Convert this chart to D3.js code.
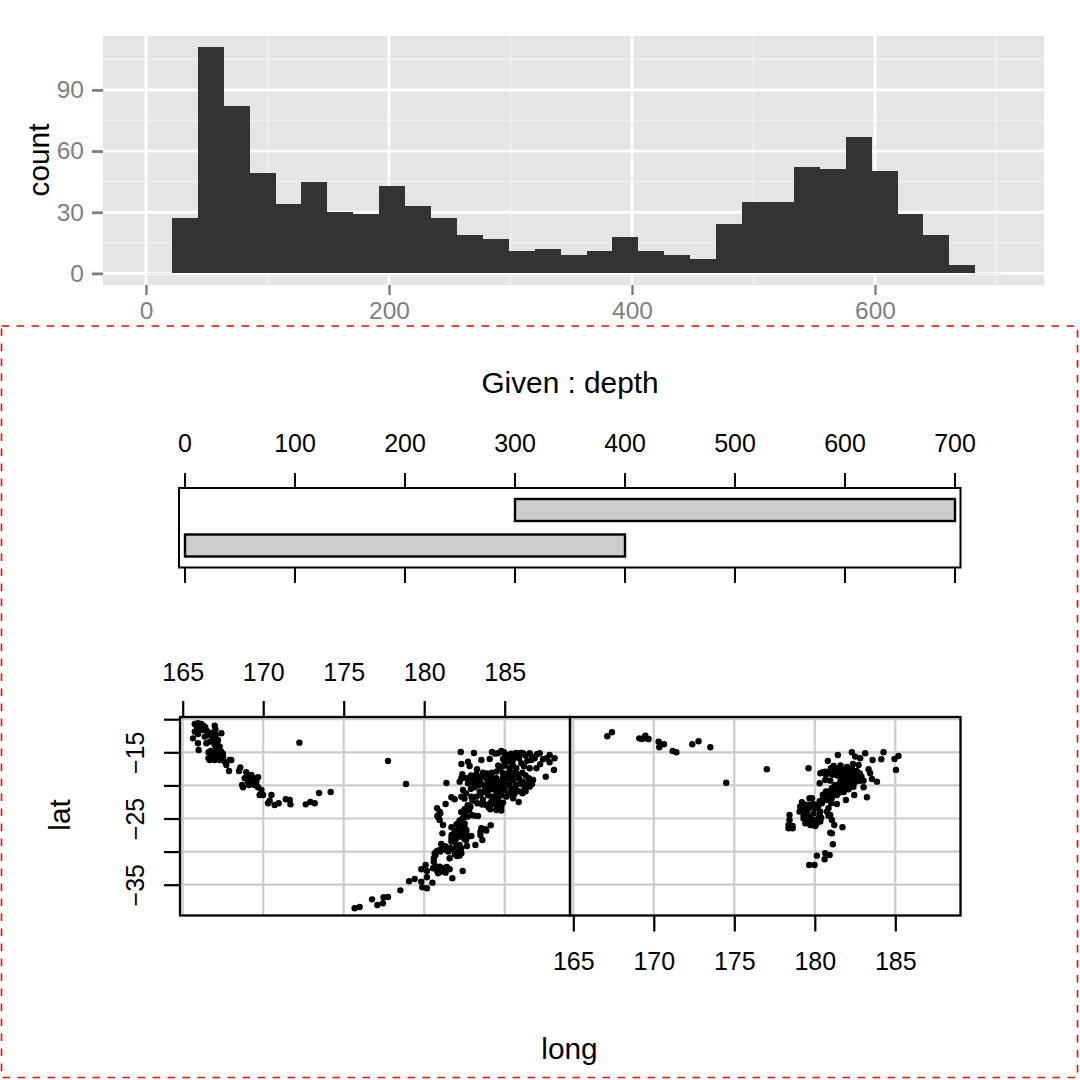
<!DOCTYPE html>
<html>
<head>
<meta charset="utf-8">
<script src="https://cdn.jsdelivr.net/npm/d3@7"></script>
<style>
body { margin: 0; background: #fff; }
svg { display: block; }
text { font-family: "Liberation Sans", Arial, sans-serif; }
</style>
</head>
<body>
<div id="chart"></div>
<script>
// histogram of depth
var binWidth = 21.33;
var binStart = 0;
var binCounts = [0, 27, 111, 82, 49, 34, 45, 30, 29, 43, 33, 27, 19, 17, 11, 12, 9, 11, 18, 11, 9, 7, 24, 35, 35, 52, 51, 67, 50, 29, 19, 4, 0];
var histXMajor = [0, 200, 400, 600];
var histXMinor = [100, 300, 500, 700];
var histYMajor = [0, 30, 60, 90];
var histYMinor = [15, 45, 75, 105];

// shingle
var givenLow = [0, 300];
var givenHigh = [400, 700];
var givenTicks = [0, 100, 200, 300, 400, 500, 600, 700];

// coplot axes
var longTicks = [165, 170, 175, 180, 185];
var latTicks = [-10, -15, -20, -25, -30, -35];
var latLabels = [-15, -25, -35];

// long, lat
var leftPoints = [
  [165.75,-10.72],[165.95,-10.62],[166.16,-10.72],[166.30,-11.02],[165.89,-11.22],[166.06,-11.37],[165.75,-11.88],
  [166.22,-11.63],[166.47,-11.73],[166.99,-10.97],[167.03,-11.53],[167.40,-12.13],[166.78,-12.13],[167.05,-12.38],
  [166.57,-12.38],[165.64,-12.89],[165.95,-12.23],[166.37,-12.63],[166.88,-12.89],[167.19,-13.14],[166.47,-13.64],
  [166.68,-13.39],[165.95,-13.64],[165.99,-14.65],[166.61,-15.00],[166.99,-13.89],[167.30,-14.14],[167.09,-14.65],
  [167.40,-14.90],[166.88,-15.15],[167.19,-15.40],[167.51,-15.65],[166.78,-15.91],[166.68,-16.16],[166.99,-16.16],
  [167.30,-16.16],[167.61,-16.41],[167.92,-16.16],[168.02,-16.16],[167.71,-16.91],[167.88,-17.82],[168.58,-17.27],
  [168.50,-17.82],[168.95,-18.02],[169.06,-18.52],[168.85,-18.93],[169.26,-18.42],[169.68,-18.78],[169.26,-19.18],
  [169.58,-19.43],[169.06,-19.43],[168.69,-19.93],[168.75,-20.29],[169.12,-19.93],[169.47,-19.93],[169.68,-20.29],
  [169.89,-20.69],[169.78,-21.45],[169.99,-21.45],[170.51,-21.45],[170.40,-22.30],[170.30,-22.70],[170.71,-22.96],
  [170.96,-22.70],[171.40,-22.10],[171.65,-22.20],[171.69,-22.86],[172.64,-22.86],[172.93,-22.50],[173.20,-22.70],
  [173.47,-21.14],[174.19,-20.99],[172.25,-13.54],[166.40,-11.20],[166.60,-12.00],[166.85,-12.50],[167.00,-13.20],
  [167.15,-13.60],[166.75,-14.80],[167.25,-15.05],[167.50,-15.20],[167.00,-15.60],[166.60,-15.90],[169.40,-18.90],
  [169.00,-19.00],
  [177.75,-16.31],[178.87,-19.78],[182.27,-14.95],[183.09,-15.10],[184.21,-14.95],[184.79,-14.80],[184.58,-15.15],
  [185.00,-15.25],[183.55,-16.16],[184.07,-16.01],[182.72,-16.41],[182.31,-16.76],[182.82,-17.06],[183.28,-17.57],
  [183.65,-18.07],[183.24,-18.32],[182.37,-18.32],[182.20,-19.43],[181.38,-19.63],[182.31,-18.93],[182.82,-19.18],
  [183.03,-19.58],[183.45,-19.08],[183.86,-18.93],[184.17,-18.68],[184.48,-18.93],[184.90,-18.17],[185.31,-17.42],
  [185.52,-16.16],[185.83,-15.40],[186.14,-15.15],[186.55,-15.15],[187.17,-15.15],[186.86,-15.91],[187.38,-16.06],
  [187.79,-15.40],[188.10,-15.91],[187.79,-16.51],[188.06,-17.67],[187.55,-18.68],[186.65,-16.16],[186.97,-17.42],
  [186.55,-17.42],[186.03,-16.66],[185.72,-17.42],[185.52,-18.17],[185.21,-18.17],[184.90,-19.43],[184.48,-19.93],
  [184.07,-20.19],[183.76,-19.93],[183.24,-19.68],[182.72,-19.68],[182.41,-20.69],[182.31,-21.70],[181.89,-22.10],
  [181.69,-21.80],[181.33,-22.80],[180.80,-23.46],[180.96,-23.96],[180.82,-24.62],[180.96,-25.22],[181.17,-25.98],
  [181.13,-27.24],[181.69,-26.33],[182.10,-25.73],[182.51,-24.72],[182.51,-23.61],[182.87,-23.21],[183.34,-24.62],
  [183.86,-22.96],[183.65,-22.20],[183.24,-21.70],[182.93,-21.70],[183.45,-20.94],[183.96,-21.45],[184.48,-22.20],
  [184.79,-23.21],[184.48,-23.71],[184.79,-23.81],[185.10,-21.70],[185.52,-21.95],[185.87,-22.50],[185.31,-21.19],
  [185.72,-20.69],[186.24,-20.44],[186.55,-20.19],[186.76,-19.18],[186.14,-19.43],[185.52,-19.18],[185.10,-19.93],
  [184.69,-20.69],[184.27,-19.43],[183.96,-19.43],[182.51,-25.73],[182.31,-26.33],[182.62,-26.73],[182.10,-26.98],
  [181.89,-27.49],[181.69,-27.99],[182.20,-27.74],[182.72,-27.74],[182.93,-27.64],[183.55,-26.48],[183.86,-26.83],
  [184.13,-26.03],[183.49,-27.49],[183.61,-28.24],[183.18,-29.00],[182.66,-29.15],[182.20,-29.00],[182.10,-30.00],
  [182.31,-30.26],[182.04,-30.66],[181.69,-28.49],[181.06,-28.85],[181.38,-29.75],[180.96,-29.75],[180.65,-30.26],
  [181.58,-31.01],[180.59,-31.52],[180.09,-32.02],[179.82,-32.67],[180.17,-32.93],[180.55,-32.52],[180.96,-32.27],
  [181.17,-32.52],[181.58,-32.67],[180.86,-33.28],[181.33,-33.18],[182.39,-32.93],[181.75,-34.03],[180.17,-33.88],
  [179.41,-34.13],[179.06,-34.49],[179.82,-34.54],[180.51,-34.69],[179.88,-35.39],[180.17,-35.54],[178.52,-35.85],
  [177.75,-36.85],[177.48,-36.90],[176.76,-37.21],[177.44,-37.81],[177.09,-38.06],[175.99,-38.36],[175.68,-38.56],
  [184.40,-15.20],[184.95,-15.00],[185.20,-15.40],[185.10,-15.90],[185.30,-16.40],[185.00,-17.00],[184.70,-17.50],
  [185.50,-16.90],[185.90,-15.90],[185.60,-15.60],[186.30,-15.50],[186.00,-15.10],[186.70,-15.70],[187.00,-15.30],
  [186.40,-16.30],[186.20,-17.10],[187.20,-16.80],[187.60,-15.90],[183.30,-19.00],[183.50,-19.60],[183.80,-20.30],
  [184.10,-19.10],[184.30,-19.90],[184.60,-19.40],[184.80,-20.00],[185.00,-19.20],[185.30,-19.80],[185.40,-20.50],
  [185.70,-19.90],[185.90,-20.90],[186.00,-19.80],[185.00,-20.70],[184.40,-20.60],[183.90,-20.70],[184.00,-21.50],
  [183.70,-21.00],[183.50,-21.40],[184.30,-21.70],[184.20,-22.30],[184.50,-23.00],[184.30,-22.80],[184.60,-22.60],
  [184.90,-22.60],[185.20,-21.40],[185.60,-21.30],[186.10,-21.20],[186.30,-20.90],[186.70,-19.80],[186.40,-19.70],
  [182.60,-23.90],[182.80,-23.70],[183.20,-24.60],[182.30,-24.00],[182.20,-26.50],[182.40,-25.90],[182.00,-26.80],
  [181.90,-26.90],[182.20,-27.10],[182.40,-27.00],[182.00,-28.00],[182.60,-27.10],[181.90,-28.30],[182.50,-28.10],
  [182.00,-29.10],[182.30,-29.50],[181.00,-30.00],[181.20,-29.60],[181.50,-30.00],[180.80,-29.90],[180.70,-30.50],
  [181.00,-24.20],[180.90,-24.90],[183.50,-27.00],[183.80,-26.60],
  [182.60,-18.90],[182.90,-18.50],[183.10,-18.90],[183.30,-18.60],[183.60,-18.60],[183.90,-18.20],[184.20,-18.10],
  [184.50,-17.90],[184.80,-17.20],[185.00,-16.50],[185.20,-16.00],[184.90,-16.00],[185.40,-15.20],[185.70,-15.10],
  [184.60,-17.00],[184.90,-18.80],[185.20,-18.90],[185.50,-18.60],[185.80,-18.30],[186.10,-18.10],[186.30,-18.50],
  [185.90,-19.00],[186.50,-18.90],[184.20,-20.60],[184.50,-21.10],[184.80,-21.50],[184.60,-21.90],[184.10,-22.70],
  [183.40,-20.00],[183.10,-20.30],[182.90,-20.50],[182.60,-21.20],[182.50,-22.00],[183.00,-22.30],[183.30,-22.70],
  [183.60,-22.90],[184.00,-23.30],[184.10,-23.60],[182.70,-23.00],[182.40,-24.90],[182.70,-24.70],[183.00,-24.50],
  [182.00,-25.90],[182.20,-25.30],[182.50,-26.20],[181.90,-27.10],[181.70,-27.50],[182.10,-27.50],[182.40,-27.60],
  [182.60,-28.30],[181.80,-29.60],[181.30,-29.20],[181.60,-29.40],[181.90,-30.40],[182.20,-30.60],[180.60,-31.00],
  [180.70,-32.20],[180.80,-32.90],[181.10,-33.00],[181.40,-32.30]
];

// long, lat
var rightPoints = [
  [167.11,-12.58],[167.40,-11.98],[169.10,-12.89],[169.26,-12.99],[169.47,-12.48],[169.53,-12.89],[169.68,-12.99],
  [170.30,-13.39],[170.63,-13.79],[170.34,-14.24],[171.17,-14.80],[171.40,-15.00],[172.39,-13.79],[172.78,-13.34],
  [173.51,-14.24],[174.50,-19.60],
  [177.02,-17.57],[179.61,-17.42],[181.43,-15.40],[182.30,-15.00],[183.13,-15.15],[184.27,-15.00],[182.51,-15.65],
  [182.82,-15.91],[183.59,-16.16],[184.13,-16.06],[184.95,-16.00],[185.20,-15.55],[185.04,-17.67],[180.81,-16.31],
  [182.37,-16.76],[182.72,-16.91],[183.34,-17.57],[183.44,-18.17],[183.55,-19.03],[183.86,-19.43],[183.03,-19.28],
  [183.03,-20.29],[183.24,-21.80],[182.45,-21.45],[181.93,-22.20],[181.37,-22.80],[181.02,-22.70],[180.85,-23.46],
  [180.96,-24.47],[181.06,-25.22],[181.21,-25.98],[181.72,-26.33],[181.06,-27.24],[181.12,-28.90],[180.65,-30.26],
  [180.92,-30.51],[180.13,-30.61],[180.61,-31.16],[179.65,-32.02],[179.98,-32.02],
  [178.43,-24.47],[178.43,-25.22],[178.37,-25.98],[178.62,-26.13],[178.37,-26.48],[178.62,-26.48],[179.20,-22.55],
  [179.09,-23.21],[179.05,-23.96],[179.30,-24.47],[179.20,-23.46],[179.67,-21.95],[179.82,-21.95],[179.41,-25.73],
  [179.72,-25.98],[180.03,-26.13],[180.34,-25.47],[180.23,-24.97],[179.72,-24.72],[179.92,-24.21],[180.34,-23.96],
  [179.61,-23.46],[180.03,-23.46],[179.51,-23.96],[179.82,-23.21],[179.61,-25.22],[180.03,-25.22],[180.44,-22.70],
  [180.65,-21.70],[180.85,-20.94],[181.06,-20.44],[181.27,-19.93],[181.58,-19.68],[181.89,-18.93],[182.20,-18.68],
  [182.51,-18.42],[182.61,-19.18],[182.30,-19.68],[182.00,-20.19],[181.68,-20.94],[181.37,-21.45],[181.06,-21.95],
  [180.75,-22.20],[180.34,-18.17],[180.65,-17.92],[180.96,-18.17],[181.27,-17.67],[181.17,-17.06],[181.48,-17.42],
  [181.79,-17.67],[182.10,-17.67],[182.30,-18.17],[181.58,-18.17],[180.30,-19.68],[180.65,-19.18],[180.96,-19.28],
  [180.96,-27.13],[180.75,-23.96],[180.85,-24.60],[181.50,-20.40],[181.80,-19.90],[182.10,-19.50],[182.40,-18.90],
  [181.20,-21.00],[180.90,-21.50],[180.50,-22.00],[180.30,-22.40],[181.60,-20.00],[181.90,-20.50],[182.20,-20.10],
  [181.30,-20.70],[179.90,-22.80],[180.10,-23.00],[179.40,-22.90],[179.50,-24.60],[179.90,-25.50],
  [181.00,-17.60],[181.60,-17.00],[182.00,-17.20],[182.30,-17.40],[182.60,-17.80],[182.80,-18.20],[181.80,-18.30],
  [182.90,-18.70],
  [180.70,-20.90],[181.00,-21.10],[181.20,-20.20],[181.40,-20.00],[181.60,-19.30],[181.90,-19.30],[182.10,-19.00],
  [182.30,-19.30],[182.50,-19.50],[181.70,-20.50],[181.40,-20.90],[181.10,-21.50],[180.80,-21.90],[180.50,-21.40],
  [182.00,-18.40],[181.70,-18.70],[181.40,-18.50],[181.10,-18.40],[180.70,-18.40],[180.50,-18.00],[181.00,-17.40],
  [181.40,-17.80],[181.80,-17.90],[182.10,-18.00],[182.60,-18.60],[182.80,-19.30],[182.40,-20.20],[182.10,-20.60],
  [181.80,-21.00],[181.50,-21.10],[179.40,-23.40],[179.60,-22.90],[179.30,-23.90],[180.20,-23.30],
  [180.30,-24.40],[179.70,-25.50],[179.30,-25.00],[180.40,-24.90],[180.10,-25.80],
  [179.80,-26.00]
];

var width = 1080, height = 1080;
var svg = d3.select("#chart").append("svg").attr("width", width).attr("height", height);

var styleTicks = function (g, color, strokeW, fontSize) {
    g.select(".domain").remove();
    g.selectAll(".tick line").attr("stroke", color).attr("stroke-width", strokeW);
    g.selectAll(".tick text")
        .attr("fill", color === "#000" ? "#000" : "#7f7f7f")
        .style("font-family", '"Liberation Sans", Arial, sans-serif')
        .style("font-size", fontSize + "px");
};

var addLabel = function (x, y, str, rotate) {
    svg.append("text")
        .attr("text-anchor", "middle")
        .attr("transform", "translate(" + x + "," + y + ")" + (rotate ? " rotate(-90)" : ""))
        .style("font-size", "29.8px")
        .attr("fill", "#000")
        .text(str);
};

// ---- histogram
var hx = d3.scaleLinear().domain([0, 600]).range([146, 875]);
var hy = d3.scaleLinear().domain([0, 90]).range([273.4, 89.9]);

svg.append("rect").attr("x", 103).attr("y", 36).attr("width", 941).attr("height", 249).attr("fill", "#e5e5e5");

svg.selectAll(".hminor-x").data(histXMinor).enter().append("line")
    .attr("x1", function (d) { return hx(d); }).attr("x2", function (d) { return hx(d); })
    .attr("y1", 36).attr("y2", 285).attr("stroke", "#f2f2f2").attr("stroke-width", 1.4);
svg.selectAll(".hminor-y").data(histYMinor).enter().append("line")
    .attr("y1", function (d) { return hy(d); }).attr("y2", function (d) { return hy(d); })
    .attr("x1", 103).attr("x2", 1044).attr("stroke", "#f2f2f2").attr("stroke-width", 1.4);
svg.selectAll(".hmajor-x").data(histXMajor).enter().append("line")
    .attr("x1", function (d) { return hx(d); }).attr("x2", function (d) { return hx(d); })
    .attr("y1", 36).attr("y2", 285).attr("stroke", "#fff").attr("stroke-width", 2.8);
svg.selectAll(".hmajor-y").data(histYMajor).enter().append("line")
    .attr("y1", function (d) { return hy(d); }).attr("y2", function (d) { return hy(d); })
    .attr("x1", 103).attr("x2", 1044).attr("stroke", "#fff").attr("stroke-width", 2.8);

svg.selectAll(".bar").data(binCounts).enter().append("rect")
    .attr("x", function (d, i) { return hx(binStart + i * binWidth); })
    .attr("width", hx(binWidth) - hx(0))
    .attr("y", function (d) { return hy(d); })
    .attr("height", function (d) { return hy(0) - hy(d); })
    .attr("fill", "#333333")
    .attr("shape-rendering", "crispEdges");

// empty bins show as a faint sliver on the zero line
svg.selectAll(".empty").data(binCounts.map(function (d, i) { return { c: d, i: i }; }).filter(function (d) { return d.c === 0; }))
    .enter().append("line")
    .attr("x1", function (d) { return hx(binStart + d.i * binWidth); })
    .attr("x2", function (d) { return hx(binStart + (d.i + 1) * binWidth); })
    .attr("y1", hy(0)).attr("y2", hy(0))
    .attr("stroke", "#e0e0e0").attr("stroke-width", 1);

svg.append("g").attr("transform", "translate(0,285)")
    .call(d3.axisBottom(hx).tickValues(histXMajor).tickSize(10).tickPadding(6.6))
    .call(styleTicks, "#7f7f7f", 2.4, 24.5);
svg.append("g").attr("transform", "translate(103,0)")
    .call(d3.axisLeft(hy).tickValues(histYMajor).tickSize(11).tickPadding(8))
    .call(styleTicks, "#7f7f7f", 2.8, 24.5);
addLabel(49, 160, "count", true);

// ---- given panel
var gx = d3.scaleLinear().domain([0, 700]).range([185, 955]);
var gy = d3.scaleLinear().domain([1, 2]).range([545.5, 510]);

addLabel(570, 392.5, "Given : depth", false);
svg.append("rect").attr("x", 179).attr("y", 488).attr("width", 781.5).attr("height", 79.5)
    .attr("fill", "#fff").attr("stroke", "#000").attr("stroke-width", 2);
svg.selectAll(".given").data(givenLow).enter().append("rect")
    .attr("x", function (d) { return gx(d); })
    .attr("width", function (d, i) { return gx(givenHigh[i]) - gx(d); })
    .attr("y", function (d, i) { return gy(i + 1) - 11; })
    .attr("height", 22)
    .attr("fill", "#cccccc").attr("stroke", "#000").attr("stroke-width", 2.4);
svg.append("g").attr("transform", "translate(-0.5,488)")
    .call(d3.axisTop(gx).tickValues(givenTicks).tickSize(15).tickPadding(21.3))
    .call(styleTicks, "#000", 2, 25);
svg.append("g").attr("transform", "translate(-0.5,568)")
    .call(d3.axisBottom(gx).tickValues(givenTicks).tickSize(15).tickFormat(""))
    .call(styleTicks, "#000", 2, 25);

// ---- coplot panels
var lxLeft = d3.scaleLinear().domain([165, 185]).range([182.7, 504.7]);
var lxRight = d3.scaleLinear().domain([165, 185]).range([573.3, 895.3]);
var ly = d3.scaleLinear().domain([-15, -35]).range([752.3, 884.7]);

var drawPanel = function (lx, x0, x1, points) {
    var g = svg.append("g");
    g.selectAll(".vgrid").data(longTicks).enter().append("line")
        .attr("x1", function (d) { return lx(d); }).attr("x2", function (d) { return lx(d); })
        .attr("y1", 717).attr("y2", 915.5).attr("stroke", "#cccccc").attr("stroke-width", 2.2);
    g.selectAll(".hgrid").data(latTicks).enter().append("line")
        .attr("y1", function (d) { return ly(d); }).attr("y2", function (d) { return ly(d); })
        .attr("x1", x0).attr("x2", x1).attr("stroke", "#cccccc").attr("stroke-width", 2.2);
    g.selectAll(".pt").data(points).enter().append("circle")
        .attr("cx", function (d) { return lx(d[0]); })
        .attr("cy", function (d) { return ly(d[1]); })
        .attr("r", 3.2).attr("fill", "#000");
    g.append("rect").attr("x", x0).attr("y", 717).attr("width", x1 - x0).attr("height", 198.5)
        .attr("fill", "none").attr("stroke", "#000").attr("stroke-width", 2.3);
};
drawPanel(lxLeft, 180, 570, leftPoints);
drawPanel(lxRight, 570, 960.5, rightPoints);

svg.append("g").attr("transform", "translate(0,717)")
    .call(d3.axisTop(lxLeft).tickValues(longTicks).tickSize(16).tickPadding(20.3))
    .call(styleTicks, "#000", 2.2, 25);
svg.append("g").attr("transform", "translate(0,915.5)")
    .call(d3.axisBottom(lxRight).tickValues(longTicks).tickSize(16).tickPadding(20.3))
    .call(styleTicks, "#000", 2.2, 25);
svg.append("g").attr("transform", "translate(180,0)")
    .call(d3.axisLeft(ly).tickValues(latTicks).tickSize(16)
        .tickFormat(function (d) { return latLabels.indexOf(d) >= 0 ? "\u2212" + Math.abs(d) : ""; }))
    .call(styleTicks, "#000", 2.2, 25)
    .selectAll(".tick text")
    .attr("transform", "rotate(-90)")
    .attr("text-anchor", "middle")
    .attr("x", 0).attr("y", -36).attr("dy", 0);

addLabel(569.5, 1059, "long", false);
addLabel(70, 815, "lat", true);

// red dashed frame round the coplot
svg.append("rect").attr("x", 1.5).attr("y", 326).attr("width", 1076).attr("height", 751.5)
    .attr("fill", "none").attr("stroke", "#ff0000").attr("stroke-width", 1.6)
    .attr("stroke-dasharray", "7.5,7.5");
</script>
</body>
</html>
